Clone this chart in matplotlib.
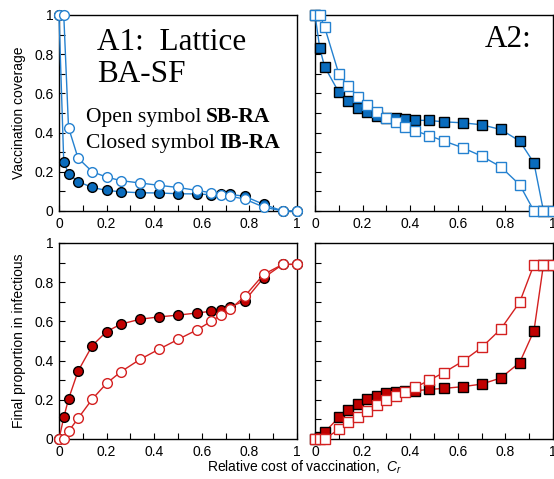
import matplotlib
matplotlib.use("Agg")
import matplotlib.pyplot as plt
from matplotlib.ticker import MultipleLocator, FuncFormatter

# ---- data ----
x_lat = [0, 0.02, 0.04, 0.08, 0.14, 0.2, 0.26, 0.34, 0.42, 0.5, 0.58, 0.64, 0.68, 0.72, 0.78, 0.86, 0.94, 1.0]
vc_lat_ib = [1.0, 0.25, 0.19, 0.15, 0.12, 0.105, 0.098, 0.093, 0.092, 0.088, 0.087, 0.083, 0.085, 0.085, 0.075, 0.034, 0.0, 0.0]
vc_lat_sb = [1.0, 1.0, 0.426, 0.27, 0.20, 0.173, 0.155, 0.143, 0.131, 0.12, 0.105, 0.093, 0.083, 0.075, 0.061, 0.02, 0.0, 0.0]
fi_lat_ib = [0.0, 0.11, 0.204, 0.346, 0.477, 0.548, 0.586, 0.611, 0.623, 0.632, 0.643, 0.652, 0.66, 0.674, 0.705, 0.823, 0.891, 0.891]
fi_lat_sb = [0.0, 0.0, 0.039, 0.105, 0.204, 0.284, 0.343, 0.406, 0.458, 0.508, 0.557, 0.601, 0.632, 0.662, 0.728, 0.84, 0.891, 0.891]

x_ba = [0, 0.02, 0.04, 0.1, 0.14, 0.18, 0.22, 0.26, 0.3, 0.34, 0.38, 0.42, 0.48, 0.54, 0.62, 0.7, 0.78, 0.86, 0.92, 0.96, 1.0]
vc_ba_ib = [1.0, 0.832, 0.737, 0.606, 0.559, 0.528, 0.503, 0.486, 0.477, 0.474, 0.469, 0.463, 0.462, 0.455, 0.45, 0.44, 0.416, 0.357, 0.245, 0.0, 0.0]
vc_ba_sb = [1.0, 1.0, 0.94, 0.70, 0.637, 0.584, 0.54, 0.506, 0.477, 0.452, 0.43, 0.41, 0.384, 0.358, 0.323, 0.28, 0.226, 0.134, 0.0, 0.0, 0.0]
fi_ba_ib = [0.0, 0.01, 0.034, 0.11, 0.149, 0.18, 0.205, 0.22, 0.233, 0.24, 0.245, 0.246, 0.253, 0.258, 0.267, 0.28, 0.311, 0.39, 0.552, 0.89, 0.89]
fi_ba_sb = [0.0, 0.0, 0.0, 0.049, 0.085, 0.114, 0.144, 0.171, 0.197, 0.217, 0.241, 0.263, 0.30, 0.338, 0.396, 0.467, 0.56, 0.698, 0.89, 0.89, 0.89]

blue_line = "#2481d0"
blue_fill = "#0a6cbd"
red_line = "#d42020"
red_fill = "#c00000"

plt.rcParams['font.family'] = ['Liberation Sans', 'DejaVu Sans']
plt.rcParams['mathtext.fontset'] = 'custom'
plt.rcParams['mathtext.it'] = 'Liberation Sans:italic'
plt.rcParams['mathtext.rm'] = 'Liberation Sans'

fig = plt.figure(figsize=(5.54, 4.79), dpi=100)
W, H = 554, 479

def ax_at(l, t, r, b):
    return fig.add_axes([l / W, 1 - b / H, (r - l) / W, (b - t) / H])

a1 = ax_at(59, 15, 297, 211)
a2 = ax_at(315, 15, 553, 211)
a3 = ax_at(59, 243, 297, 439)
a4 = ax_at(315, 243, 553, 439)

fmt = FuncFormatter(lambda v, p: "%g" % round(v, 2))

def style(ax, ylabels=True):
    ax.set_xlim(0, 1)
    ax.set_ylim(0, 1)
    ax.xaxis.set_major_locator(MultipleLocator(0.2))
    ax.xaxis.set_minor_locator(MultipleLocator(0.1))
    ax.yaxis.set_major_locator(MultipleLocator(0.2))
    ax.yaxis.set_minor_locator(MultipleLocator(0.1))
    ax.xaxis.set_major_formatter(fmt)
    ax.yaxis.set_major_formatter(fmt)
    ax.tick_params(which='both', direction='in', length=4, width=0.8, labelsize=10, pad=4)
    ax.tick_params(which='both', top=False, right=False)
    if not ylabels:
        ax.tick_params(axis='y', labelleft=False)
    for s in ax.spines.values():
        s.set_linewidth(1.0)

def plot_pair(ax, x, yc, yo, line, fill, marker):
    ax.plot(x, yc, color=line, lw=1.0, marker=marker, ms=7, mfc=fill, mec='black', mew=1.0, clip_on=False, zorder=3)
    ax.plot(x, yo, color=line, lw=1.0, marker=marker, ms=7, mfc='white', mec=line, mew=1.0, clip_on=False, zorder=4)

plot_pair(a1, x_lat, vc_lat_ib, vc_lat_sb, blue_line, blue_fill, 'o')
plot_pair(a2, x_ba, vc_ba_ib, vc_ba_sb, blue_line, blue_fill, 's')
plot_pair(a3, x_lat, fi_lat_ib, fi_lat_sb, red_line, red_fill, 'o')
plot_pair(a4, x_ba, fi_ba_ib, fi_ba_sb, red_line, red_fill, 's')

style(a1)
style(a2, ylabels=False)
style(a3)
style(a4, ylabels=False)

a1.set_ylabel("Vaccination coverage", fontsize=10, labelpad=6)
a3.set_ylabel("Final proportion in infectious", fontsize=10, labelpad=6)
fig.text(305 / W, 1 - 467 / H, "Relative cost of vaccination,  $C_r$", ha='center', va='center', fontsize=10)

serif = ['Liberation Serif', 'DejaVu Serif']

def ptext(x, y, s, **kw):
    return fig.text(x / W, 1 - y / H, s, ha='left', va='baseline', family=serif, **kw)

ptext(97, 50, "A1:  Lattice", fontsize=22.5)
ptext(97, 82, "BA-SF", fontsize=22.5)
ptext(485, 47, "A2:", fontsize=22.5)

renderer = fig.canvas.get_renderer()
for y, normal, bold in [(122, "Open symbol", "SB-RA"), (148, "Closed symbol", "IB-RA")]:
    t = ptext(86, y, normal, fontsize=15.5)
    bb = t.get_window_extent(renderer=renderer)
    fig.text((bb.x1 + 4.5) / W, 1 - y / H, bold, ha='left', va='baseline', family=serif,
             fontsize=15.5, fontweight='bold')

fig.savefig("out.png", dpi=100)
